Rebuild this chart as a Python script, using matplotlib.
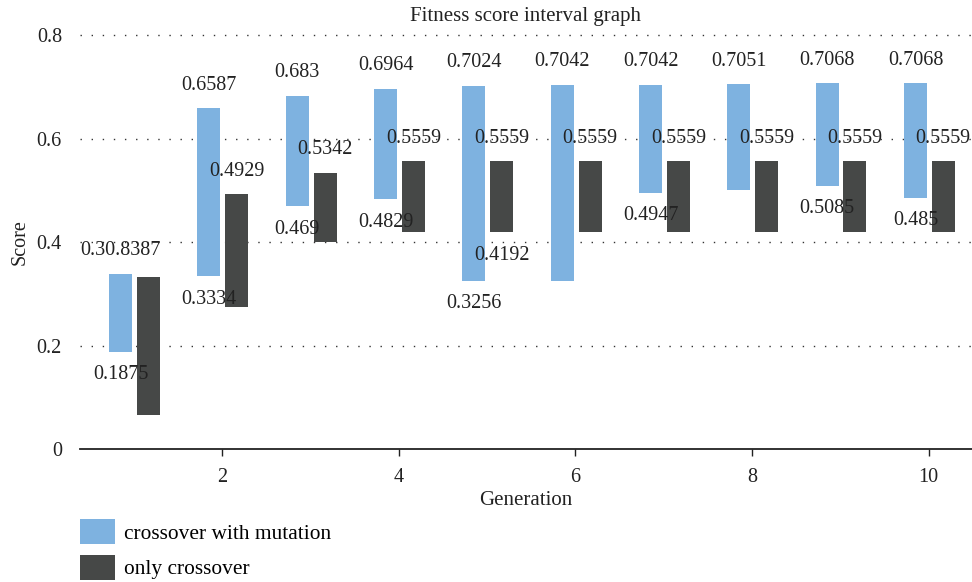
import numpy as np
import matplotlib
matplotlib.use("Agg")
import matplotlib.pyplot as plt
from matplotlib.patches import Patch

plt.rcParams['font.family'] = ['Liberation Serif', 'DejaVu Serif']

generation = [1, 2, 3, 4, 5, 6, 7, 8, 9, 10]

# crossover with mutation: score interval (top / bottom)
mut_top    = [0.3387, 0.6587, 0.683, 0.6964, 0.7024, 0.7042, 0.7042, 0.7051, 0.7068, 0.7068]
mut_bottom = [0.1875, 0.3334, 0.469, 0.4829, 0.3256, 0.3256, 0.4947, 0.4998, 0.5085, 0.485]
# only crossover
cx_top     = [0.332, 0.4929, 0.5342, 0.5559, 0.5559, 0.5559, 0.5559, 0.5559, 0.5559, 0.5559]
cx_bottom  = [0.0657, 0.274, 0.400, 0.4192, 0.4192, 0.4192, 0.4192, 0.4192, 0.4192, 0.4192]

# data labels as printed on the chart ('' = hidden)
mut_top_lbl    = ['0.30.8387', '0.6587', '0.683', '0.6964', '0.7024', '0.7042', '0.7042', '0.7051', '0.7068', '0.7068']
mut_bottom_lbl = ['0.1875', '0.3334', '0.469', '0.4829', '0.3256', '', '0.4947', '', '0.5085', '0.485']
cx_top_lbl     = ['', '0.4929', '0.5342', '0.5559', '0.5559', '0.5559', '0.5559', '0.5559', '0.5559', '0.5559']
cx_bottom_lbl  = ['', '', '', '', '0.4192', '', '', '', '', '']

c_mut = '#7EB2E0'
c_cx = '#464847'

fig = plt.figure(figsize=(9.72, 5.82), dpi=100)
ax = fig.add_axes([0.0823, 0.2285, 0.9177, 0.7113])

x = np.array(generation, dtype=float)
w = 0.26
mt, mb = np.array(mut_top), np.array(mut_bottom)
ct, cb = np.array(cx_top), np.array(cx_bottom)

ax.bar(x - 0.15, mt - mb, bottom=mb, width=w, color=c_mut, zorder=2)
ax.bar(x + 0.165, ct - cb, bottom=cb, width=w, color=c_cx, zorder=2)

fs = 14.5
def put(xs, ys, labels, dy):
    for xi, yi, t in zip(xs, ys, labels):
        if t:
            ax.annotate(t, (xi, yi), xytext=(0, dy), textcoords='offset points',
                        ha='center', va='center', fontsize=fs, color='#222222', zorder=3)

put(x - 0.15, mt, mut_top_lbl, 16.5)
put(x - 0.15, mb, mut_bottom_lbl, -16.5)
put(x + 0.165, ct, cx_top_lbl, 16.5)
put(x + 0.165, cb, cx_bottom_lbl, -16.5)

ax.set_xlim(0.39, 10.49)
ax.set_ylim(0, 0.8)
ax.set_xticks([2, 4, 6, 8, 10])
ax.set_yticks([0, 0.2, 0.4, 0.6, 0.8])
ax.set_yticklabels(['0', '0.2', '0.4', '0.6', '0.8'])
ax.tick_params(axis='x', length=5, width=1, pad=9, labelsize=fs, colors='#222222')
ax.tick_params(axis='y', length=0, pad=13, labelsize=fs, colors='#222222')

for s in ['top', 'right', 'left']:
    ax.spines[s].set_visible(False)
ax.spines['bottom'].set_linewidth(1.3)
ax.spines['bottom'].set_color('#222222')

for yv in [0.2, 0.4, 0.6, 0.8]:
    ax.axhline(yv, color='#333333', lw=1.0, linestyle=(0, (1, 7)), zorder=1, clip_on=False)

ax.set_xlabel('Generation', fontsize=15, labelpad=2.5, color='#222222')
ax.set_ylabel('Score', fontsize=fs, labelpad=5, color='#222222')
ax.set_title('Fitness score interval graph', fontsize=15, pad=10, color='#222222')

handles = [Patch(facecolor=c_mut, label='crossover with mutation'),
           Patch(facecolor=c_cx, label='only crossover')]
fig.legend(handles=handles, loc='upper left', bbox_to_anchor=(0.0823, 0.1085),
           frameon=False, fontsize=15.4, borderpad=0, borderaxespad=0,
           handlelength=1.63, handleheight=1.45, handletextpad=0.45, labelspacing=0.48)

fig.savefig('out.png', dpi=100)
